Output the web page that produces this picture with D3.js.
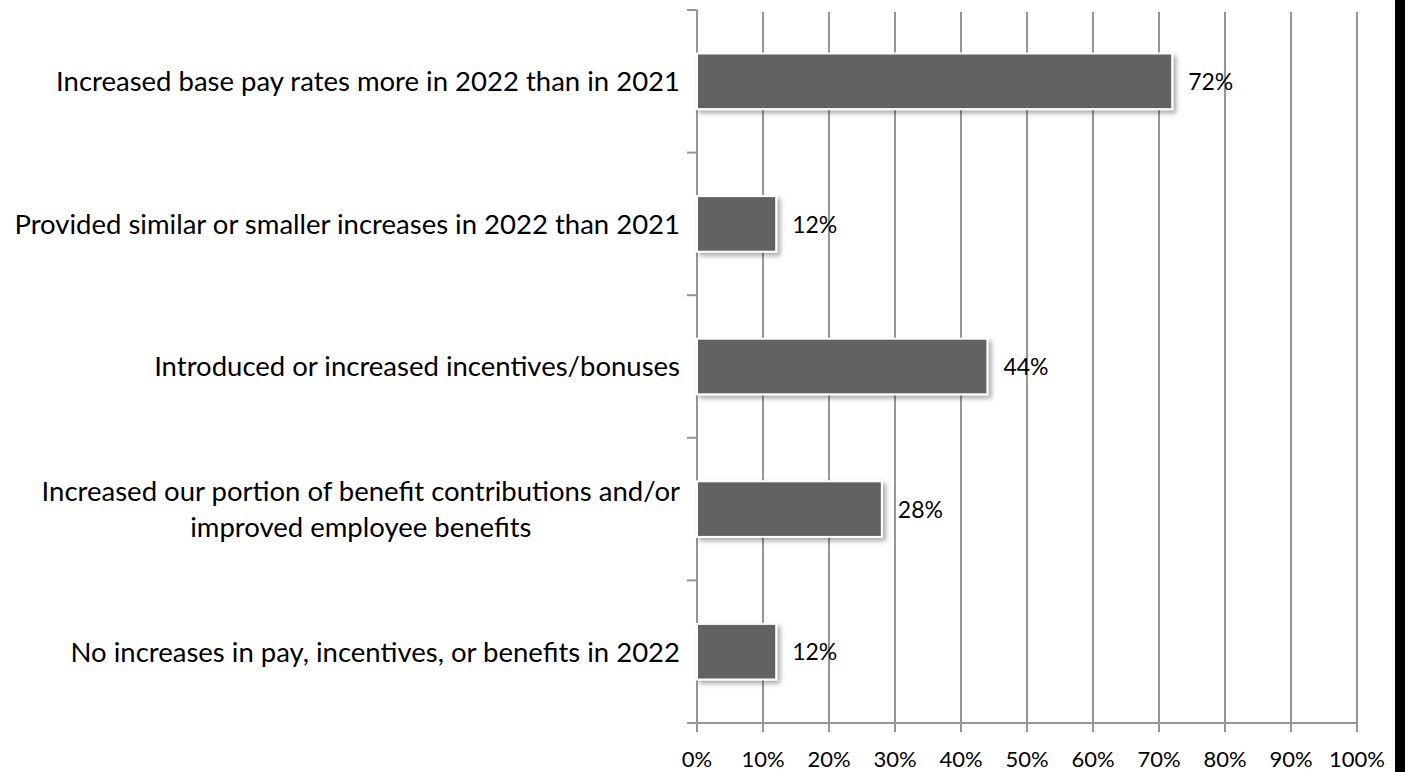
<!DOCTYPE html>
<html>
<head>
<meta charset="utf-8">
<script src="https://cdn.jsdelivr.net/npm/d3@7"></script>
<style>
  body { margin: 0; background: #fff; }
  svg text { font-family: Lato, "Open Sans", sans-serif; fill: #000; }
</style>
</head>
<body>
<svg id="chart" width="1405" height="772"></svg>
<script>
// chart data
const categories = [
    "Increased base pay rates more in 2022 than in 2021",
    "Provided similar or smaller increases in 2022 than 2021",
    "Introduced or increased incentives/bonuses",
    "Increased our portion of benefit contributions and/or\nimproved employee benefits",
    "No increases in pay, incentives, or benefits in 2022"
];
const values = [72, 12, 44, 28, 12];
const tickValues = [0, 10, 20, 30, 40, 50, 60, 70, 80, 90, 100];

const svg = d3.select("#chart");
const plot = { left: 697, right: 1357, top: 10, bottom: 723 };
const axisColor = "#969696";

const defs = svg.append("defs");
const shadow = defs.append("filter").attr("id", "shadow")
    .attr("x", "-10%").attr("y", "-20%").attr("width", "130%").attr("height", "160%");
shadow.append("feDropShadow")
    .attr("dx", 3).attr("dy", 3).attr("stdDeviation", 2.5)
    .attr("flood-color", "#000").attr("flood-opacity", 0.35);

const x = d3.scaleLinear().domain([0, 100]).range([plot.left, plot.right]);
const y = d3.scaleBand().domain(d3.range(categories.length))
    .range([plot.top, plot.bottom]).paddingInner(0.61).paddingOuter(0.305);

// vertical grid lines (ticks hang below axis)
svg.append("g").selectAll("line").data(tickValues).join("line")
    .attr("x1", d => x(d)).attr("x2", d => x(d))
    .attr("y1", plot.top + 2).attr("y2", plot.bottom + 9)
    .attr("stroke", axisColor).attr("stroke-width", 2);

// x axis line
svg.append("line").attr("x1", plot.left - 10).attr("x2", plot.right)
    .attr("y1", plot.bottom).attr("y2", plot.bottom)
    .attr("stroke", axisColor).attr("stroke-width", 2);

// y axis line + ticks at band boundaries
svg.append("line").attr("x1", plot.left).attr("x2", plot.left)
    .attr("y1", plot.top).attr("y2", plot.bottom)
    .attr("stroke", axisColor).attr("stroke-width", 2);
const step = y.step();
svg.append("g").selectAll("line").data(d3.range(categories.length + 1)).join("line")
    .attr("x1", plot.left - 10).attr("x2", plot.left)
    .attr("y1", d => plot.top + d * step).attr("y2", d => plot.top + d * step)
    .attr("stroke", axisColor).attr("stroke-width", 2);

// bars
svg.append("g").selectAll("rect").data(values).join("rect")
    .attr("x", x(0))
    .attr("y", (d, i) => y(i))
    .attr("width", d => x(d) - x(0))
    .attr("height", y.bandwidth())
    .attr("fill", "#626262")
    .attr("stroke", "#fff").attr("stroke-width", 2)
    .attr("filter", "url(#shadow)");

// value labels
svg.append("g").selectAll("text").data(values).join("text")
    .attr("x", d => x(d) + 16)
    .attr("y", (d, i) => y(i) + y.bandwidth() / 2)
    .attr("dy", "0.38em")
    .attr("font-size", 23)
    .text(d => d + "%");

// category labels
const catG = svg.append("g");
categories.forEach((c, i) => {
    const lines = c.split("\n");
    const t = catG.append("text")
        .attr("text-anchor", "middle")
        .attr("font-size", 27.5)
        .attr("y", y(i) + y.bandwidth() / 2);
    lines.forEach((ln, j) => {
        t.append("tspan").attr("x", 0)
            .attr("dy", j === 0 ? (0.36 - (lines.length - 1) * 0.64) + "em" : "1.28em")
            .text(ln);
    });
    // right-align the block, lines centered within it
    const w = t.node().getBBox().width;
    t.selectAll("tspan").attr("x", plot.left - 17 - w / 2);
});

// x tick labels
svg.append("g").selectAll("text").data(tickValues).join("text")
    .attr("x", d => x(d)).attr("y", 767)
    .attr("text-anchor", "middle")
    .attr("font-size", 22)
    .text(d => d + "%");

// black edge on the right
svg.append("rect").attr("x", 1395).attr("y", 0).attr("width", 10).attr("height", 772).attr("fill", "#000");
</script>
</body>
</html>
